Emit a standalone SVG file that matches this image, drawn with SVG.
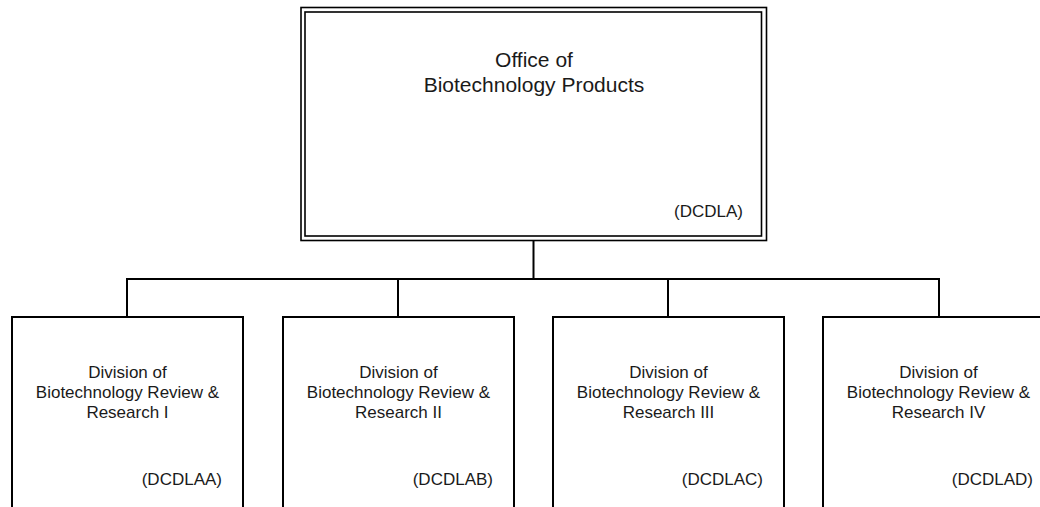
<svg xmlns="http://www.w3.org/2000/svg" width="1040" height="507" viewBox="0 0 1040 507">
<style>
.bg{fill:#ffffff}
.box{fill:#ffffff;stroke:#000;stroke-width:2}
.dbl{fill:none;stroke:#000;stroke-width:1.6}
.conn{fill:none;stroke:#000;stroke-width:2}
text{font-family:"Liberation Sans",Arial,sans-serif;fill:#1a1a1a}
.t1{font-size:21px;text-anchor:middle}
.t2{font-size:17px;text-anchor:middle}
.code{font-size:17px;text-anchor:end}
</style>
<rect class="bg" x="0" y="0" width="1040" height="507"/>
<g id="connectors">
<path class="conn" d="M533.5 241 V279"/>
<path class="conn" d="M127 279 H939"/>
<path class="conn" d="M127 278 V317"/>
<path class="conn" d="M398 278 V317"/>
<path class="conn" d="M668 278 V317"/>
<path class="conn" d="M939 278 V317"/>
</g>
<g id="office">
<rect x="301" y="7.5" width="465.5" height="233" fill="#fff" class="dbl"/>
<rect class="dbl" x="305" y="12" width="456.5" height="224"/>
<text class="t1" x="534" y="67">Office of</text>
<text class="t1" x="534" y="91.5">Biotechnology Products</text>
<text class="code" x="743" y="217">(DCDLA)</text>
</g>
<g id="div1">
<rect class="box" x="12" y="317" width="231" height="200"/>
<text class="t2" x="127.5" y="378">Division of</text>
<text class="t2" x="127.5" y="398">Biotechnology Review &amp;</text>
<text class="t2" x="127.5" y="417.5">Research I</text>
<text class="code" x="222" y="485">(DCDLAA)</text>
</g>
<g id="div2">
<rect class="box" x="283" y="317" width="231" height="200"/>
<text class="t2" x="398.5" y="378">Division of</text>
<text class="t2" x="398.5" y="398">Biotechnology Review &amp;</text>
<text class="t2" x="398.5" y="417.5">Research II</text>
<text class="code" x="493" y="485">(DCDLAB)</text>
</g>
<g id="div3">
<rect class="box" x="553" y="317" width="231" height="200"/>
<text class="t2" x="668.5" y="378">Division of</text>
<text class="t2" x="668.5" y="398">Biotechnology Review &amp;</text>
<text class="t2" x="668.5" y="417.5">Research III</text>
<text class="code" x="763" y="485">(DCDLAC)</text>
</g>
<g id="div4">
<rect class="box" x="823" y="317" width="231" height="200"/>
<text class="t2" x="938.5" y="378">Division of</text>
<text class="t2" x="938.5" y="398">Biotechnology Review &amp;</text>
<text class="t2" x="938.5" y="417.5">Research IV</text>
<text class="code" x="1033" y="485">(DCDLAD)</text>
</g>
</svg>
